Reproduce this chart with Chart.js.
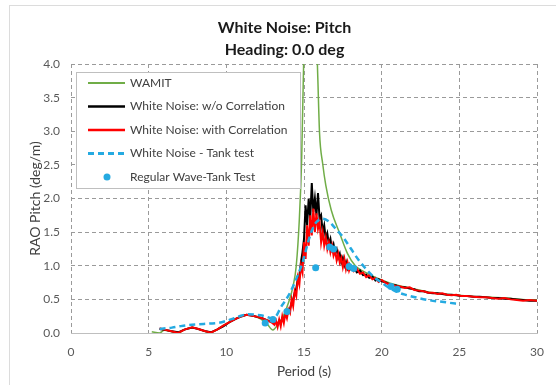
<!DOCTYPE html>
<html>
<head>
<meta charset="utf-8">
<script src="https://cdn.jsdelivr.net/npm/chart.js@4.4.0/dist/chart.umd.min.js"></script>
<style>
  html, body { margin: 0; padding: 0; background: #fff; }
</style>
</head>
<body>
<canvas id="raoChart" width="556" height="385"></canvas>
<script>
// RAO pitch, heading 0.0 deg

// WAMIT
const wamitPeriod = [5.2, 5.7, 6.0, 6.5, 6.9, 7.3, 7.8, 8.3, 8.7, 9.0, 9.5, 10.0, 10.5, 11.0, 11.4, 11.8, 12.2, 12.6, 13.0, 13.3,
  13.6, 14.0, 14.3, 14.5, 14.7, 14.85, 15.0, 15.2, 15.4, 15.6, 15.8, 15.9, 16.0, 16.2, 16.4, 16.75, 17.3, 17.8, 18.3, 18.8,
  19.4, 20.0, 21.0, 22.0, 23.0, 24.0, 25.0, 26.0, 27.0, 28.0, 29.0, 30.0];
const wamitRao = [0.02, 0.0, 0.04, 0.02, 0.0, 0.05, 0.08, 0.05, 0.02, 0.005, 0.07, 0.14, 0.2, 0.25, 0.27, 0.25, 0.21, 0.14, 0.045, 0.12,
  0.22, 0.45, 0.7, 1.0, 1.7, 2.6, 4.3, 7.0, 9.0, 7.0, 4.5, 3.7, 2.97, 2.52, 2.2, 1.83, 1.48, 1.18, 1.0, 0.92,
  0.85, 0.79, 0.71, 0.66, 0.61, 0.58, 0.56, 0.54, 0.53, 0.52, 0.5, 0.49];

// white noise runs (same period grid for both)
const wnPeriod = [5.7, 6.0, 6.4, 6.9, 7.3, 7.8, 8.2, 8.6, 9.0, 9.4, 9.8, 10.2, 10.6,
  11.0, 11.3, 11.6, 12.0, 12.3, 12.6, 12.9,
  13.1, 13.2, 13.3, 13.4, 13.5, 13.6, 13.7, 13.8, 13.9,
  14.0, 14.1, 14.2, 14.3, 14.4, 14.5, 14.6, 14.7, 14.8, 14.9,
  15.0, 15.1, 15.2, 15.3, 15.4, 15.5, 15.6, 15.7, 15.8, 15.9,
  16.0, 16.1, 16.2, 16.3, 16.4, 16.5, 16.6, 16.7, 16.8, 16.9,
  17.0, 17.1, 17.2, 17.3, 17.4, 17.5, 17.6, 17.7, 17.8, 17.9,
  18.0, 18.2, 18.4, 18.6, 18.8, 19.0, 19.2, 19.4, 19.6, 19.8,
  20.0, 20.3, 20.6, 20.9, 21.2, 21.5, 21.8, 22.1, 22.4, 22.7, 23.0, 23.3, 23.6, 23.9,
  24.2, 24.5, 24.8, 25.1, 25.5, 25.9, 26.3, 26.7, 27.1, 27.5, 27.9, 28.3, 28.7, 29.1, 29.5, 30.0];
const wnNoCorr = [0.06, 0.05, 0.03, 0.01, 0.05, 0.08, 0.06, 0.03, 0.01, 0.05, 0.1, 0.16, 0.21,
  0.25, 0.27, 0.26, 0.24, 0.22, 0.19, 0.17,
  0.14, 0.16, 0.12, 0.18, 0.14, 0.22, 0.2, 0.28, 0.26,
  0.34, 0.36, 0.45, 0.5, 0.6, 0.66, 0.8, 0.85, 1.05, 1.2,
  1.4, 1.9, 1.6, 2.0, 1.7, 2.23, 1.8, 2.0, 1.75, 2.08,
  1.7, 1.75, 1.5, 1.6, 1.4, 1.48, 1.32, 1.4, 1.25, 1.32,
  1.2, 1.25, 1.12, 1.18, 1.05, 1.12, 1.0, 1.06, 0.96, 1.02,
  0.95, 0.97, 0.9, 0.93, 0.86, 0.87, 0.82, 0.84, 0.78, 0.8,
  0.77, 0.75, 0.71, 0.71, 0.68, 0.68, 0.66, 0.65, 0.62, 0.62, 0.6, 0.59, 0.59, 0.58,
  0.57, 0.57, 0.56, 0.55, 0.55, 0.54, 0.54, 0.53, 0.52, 0.52, 0.51, 0.51, 0.5, 0.49, 0.48, 0.48];
const wnCorr = [0.07, 0.05, 0.03, 0.0, 0.05, 0.085, 0.06, 0.03, 0.005, 0.05, 0.11, 0.16, 0.21,
  0.25, 0.27, 0.26, 0.24, 0.22, 0.19, 0.16,
  0.12, 0.18, 0.09, 0.2, 0.1, 0.25, 0.15, 0.3, 0.22,
  0.35, 0.3, 0.5, 0.4, 0.62, 0.55, 0.82, 0.72, 1.0, 0.9,
  1.35, 1.1, 1.6, 1.3, 1.75, 1.45, 1.85, 1.5, 1.78, 1.55,
  1.65, 1.35, 1.5, 1.3, 1.42, 1.25, 1.35, 1.2, 1.3, 1.15,
  1.22, 1.08, 1.18, 1.05, 1.12, 0.98, 1.1, 0.95, 1.05, 0.93,
  1.0, 0.92, 0.96, 0.88, 0.9, 0.83, 0.86, 0.8, 0.82, 0.76,
  0.79, 0.74, 0.72, 0.7, 0.69, 0.67, 0.68, 0.64, 0.63, 0.62, 0.6, 0.6, 0.58, 0.59,
  0.57, 0.56, 0.57, 0.55, 0.55, 0.54, 0.53, 0.53, 0.52, 0.51, 0.52, 0.5, 0.49, 0.48, 0.49, 0.48];

// white noise tank test
const tankPeriod = [5.7, 6.5, 7.0, 7.6, 8.2, 8.9, 9.5, 10.0, 10.5, 11.0, 11.4, 11.9, 12.3, 12.6, 12.9, 13.2, 13.5, 13.8, 14.1, 14.4,
  14.75, 15.0, 15.2, 15.5, 15.8, 16.2, 16.6, 17.0, 17.5, 18.0, 18.5, 19.0, 19.5, 20.0, 20.5, 21.0, 21.5, 22.0, 23.0, 24.0, 25.0];
const tankRao = [0.06, 0.08, 0.1, 0.12, 0.13, 0.14, 0.15, 0.18, 0.22, 0.26, 0.28, 0.27, 0.26, 0.24, 0.22, 0.25, 0.38, 0.48, 0.6, 0.75,
  0.95, 1.12, 1.3, 1.52, 1.65, 1.7, 1.66, 1.56, 1.43, 1.26, 1.09, 0.95, 0.83, 0.75, 0.67, 0.61, 0.57, 0.54, 0.49, 0.46, 0.43];

// regular wave tank test
const regPeriod = [12.5, 13.0, 13.9, 15.75, 16.65, 16.9, 17.9, 18.2, 20.6, 21.0];
const regRao = [0.15, 0.2, 0.32, 0.97, 1.28, 1.25, 0.99, 0.96, 0.69, 0.65];

const xTicks = [0, 5, 10, 15, 20, 25, 30];
const yTicks = [0, 0.5, 1.0, 1.5, 2.0, 2.5, 3.0, 3.5, 4.0];

const toPoints = (xs, ys) => xs.map((x, i) => ({ x: x, y: ys[i] }));

const fontFamily = 'Lato, "Liberation Sans", sans-serif';
const blue = '#25aae1';
const gridGrey = '#9a9a9a';

// light frame round the whole picture
const frame = {
  id: 'frame',
  beforeDraw(chart) {
    const ctx = chart.ctx;
    ctx.save();
    ctx.fillStyle = '#ffffff';
    ctx.fillRect(0, 0, chart.width, chart.height);
    ctx.strokeStyle = '#dcdcdc';
    ctx.lineWidth = 1;
    ctx.strokeRect(9.5, 5.5, chart.width, chart.height);
    ctx.restore();
  }
};

// legend box sitting inside the plot, top left
const insideLegend = {
  id: 'insideLegend',
  afterDatasetsDraw(chart) {
    const { ctx, chartArea } = chart;
    const left = chartArea.left + 5;
    const top = chartArea.top + 8;
    const w = 224, h = 116, rowH = 23.5;
    ctx.save();
    ctx.fillStyle = '#ffffff';
    ctx.fillRect(left, top, w, h);
    ctx.strokeStyle = '#bfbfbf';
    ctx.lineWidth = 1;
    ctx.strokeRect(left + 0.5, top + 0.5, w, h);
    ctx.font = '12px ' + fontFamily;
    ctx.textBaseline = 'middle';
    chart.data.datasets.forEach((ds, i) => {
      const y = top + 11 + i * rowH;
      if (ds.showLine === false) {
        ctx.fillStyle = ds.pointBackgroundColor;
        ctx.beginPath();
        ctx.arc(left + 31, y, 3.5, 0, Math.PI * 2);
        ctx.fill();
      } else {
        ctx.strokeStyle = ds.borderColor;
        ctx.lineWidth = ds.borderWidth + 0.5;
        ctx.setLineDash(ds.borderDash || []);
        ctx.beginPath();
        ctx.moveTo(left + 12, y);
        ctx.lineTo(left + 49, y);
        ctx.stroke();
        ctx.setLineDash([]);
      }
      ctx.fillStyle = '#404040';
      ctx.fillText(ds.label, left + 54, y);
    });
    ctx.restore();
  }
};

new Chart(document.getElementById('raoChart'), {
  type: 'line',
  data: {
    datasets: [{
      label: 'WAMIT',
      data: toPoints(wamitPeriod, wamitRao),
      borderColor: '#70ad47',
      borderWidth: 1.5,
      pointRadius: 0,
      cubicInterpolationMode: 'monotone',
      order: 5
    }, {
      label: 'White Noise: w/o Correlation',
      data: toPoints(wnPeriod, wnNoCorr),
      borderColor: '#000000',
      borderWidth: 2,
      pointRadius: 0,
      order: 4
    }, {
      label: 'White Noise: with Correlation',
      data: toPoints(wnPeriod, wnCorr),
      borderColor: '#ff0000',
      borderWidth: 2,
      pointRadius: 0,
      order: 3
    }, {
      label: 'White Noise - Tank test',
      data: toPoints(tankPeriod, tankRao),
      borderColor: blue,
      borderWidth: 2.5,
      borderDash: [6, 4],
      pointRadius: 0,
      cubicInterpolationMode: 'monotone',
      order: 2
    }, {
      label: 'Regular Wave-Tank Test',
      data: toPoints(regPeriod, regRao),
      showLine: false,
      pointRadius: 3.5,
      pointBackgroundColor: blue,
      pointBorderWidth: 0,
      order: 1
    }]
  },
  options: {
    responsive: false,
    animation: false,
    devicePixelRatio: 1,
    layout: { padding: { left: 26, right: 13, top: 5, bottom: 4 } },
    plugins: {
      legend: { display: false },
      tooltip: { enabled: false },
      title: {
        display: true,
        text: ['White Noise: Pitch', 'Heading: 0.0 deg'],
        color: '#1a1a1a',
        font: { family: fontFamily, size: 16, weight: 'bold', lineHeight: 22 / 16 },
        padding: { top: 12, bottom: 3 }
      }
    },
    scales: {
      x: {
        type: 'linear',
        min: 0,
        max: 30,
        afterBuildTicks: (scale) => { scale.ticks = xTicks.map(v => ({ value: v })); },
        afterFit: (scale) => { scale.height = 48; },
        ticks: {
          padding: 12,
          color: '#595959',
          font: { family: fontFamily, size: 12 },
          callback: (v) => String(v)
        },
        grid: { color: gridGrey, drawTicks: false },
        border: { display: true, color: '#bfbfbf', dash: [4, 3] },
        title: {
          display: true,
          text: 'Period (s)',
          color: '#404040',
          font: { family: fontFamily, size: 13.5 },
          padding: { top: 0, bottom: 1 }
        }
      },
      y: {
        min: 0,
        max: 4,
        afterBuildTicks: (scale) => { scale.ticks = yTicks.map(v => ({ value: v })); },
        afterFit: (scale) => { scale.width = 45; },
        ticks: {
          padding: 11,
          color: '#595959',
          font: { family: fontFamily, size: 12 },
          callback: (v) => Number(v).toFixed(1)
        },
        grid: { color: gridGrey, drawTicks: false },
        border: { display: false, dash: [4, 3] },
        title: {
          display: true,
          text: 'RAO Pitch (deg/m)',
          color: '#404040',
          font: { family: fontFamily, size: 14 },
          padding: { top: 1, bottom: 0 }
        }
      }
    }
  },
  plugins: [frame, insideLegend]
});
</script>
</body>
</html>
